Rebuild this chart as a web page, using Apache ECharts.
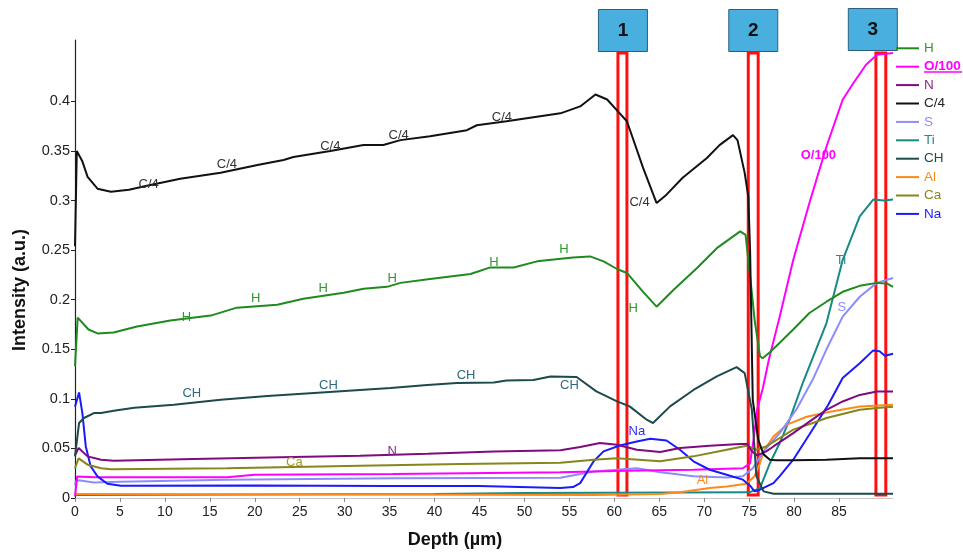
<!DOCTYPE html>
<html>
<head>
<meta charset="utf-8">
<script src="https://cdn.jsdelivr.net/npm/echarts@6/dist/echarts.min.js"></script>
<style>
html,body{margin:0;padding:0;background:#fff;}
#chart{width:963px;height:554px;}
</style>
</head>
<body>
<div id="chart"></div>
<script>
// ---- data (depth µm, intensity a.u.) ----
var seriesNames = ['H', 'O/100', 'N', 'C/4', 'S', 'Ti', 'CH', 'Al', 'Ca', 'Na'];
var xTicks = [0, 5, 10, 15, 20, 25, 30, 35, 40, 45, 50, 55, 60, 65, 70, 75, 80, 85];
var yTicks = [0, 0.05, 0.1, 0.15, 0.2, 0.25, 0.3, 0.35, 0.4];

var dataH = [[0,0.133],[0.3,0.182],[0.5,0.181],[1.5,0.17],[2.5,0.166],[4.3,0.167],[6.9,0.173],[10.6,0.179],[15.1,0.184],[18,0.192],[22.5,0.195],[25.4,0.201],[29.9,0.207],[32.1,0.211],[34.7,0.213],[36.2,0.217],[39.5,0.221],[44,0.226],[46.2,0.2326],[48.8,0.2326],[51.4,0.2387],[55.4,0.2427],[57.3,0.2437],[58.8,0.2387],[60.3,0.231],[61.4,0.227],[63.2,0.208],[64.7,0.193],[66.6,0.21],[69.2,0.232],[71.4,0.252],[74.0,0.269],[74.6,0.2655],[75.3,0.207],[75.6,0.18],[76.2,0.143],[76.5,0.141],[77.3,0.147],[78,0.153],[79.9,0.17],[81.7,0.1866],[83.6,0.198],[85.4,0.208],[87.3,0.214],[89.2,0.217],[90.4,0.216],[91,0.213]];
var dataO = [[0,0.0016],[0.25,0.0218],[0.4,0.0235],[2.1,0.021],[16.9,0.021],[20,0.0235],[35.4,0.0242],[54,0.026],[61.4,0.0275],[68.8,0.0285],[74.3,0.030],[75.1,0.035],[75.5,0.06],[75.9,0.09],[76.5,0.11],[77.2,0.14],[78.4,0.183],[79.9,0.24],[81.7,0.2975],[83.6,0.3546],[85.4,0.4017],[86.6,0.4186],[88,0.437],[89.2,0.447],[91,0.449]];
var dataN = [[0,0.043],[0.4,0.0504],[1.4,0.042],[2.9,0.0386],[4.3,0.0376],[13.2,0.0393],[24.3,0.0413],[31.7,0.0427],[39.2,0.0447],[46.6,0.047],[54,0.0482],[56.2,0.0514],[58.4,0.0555],[60.3,0.0537],[62.5,0.0487],[65.1,0.0464],[67.3,0.0504],[70.6,0.0527],[74.0,0.0545],[74.8,0.0545],[75.3,0.047],[75.9,0.043],[76.9,0.047],[77.7,0.052],[79.9,0.0655],[81.7,0.077],[83.6,0.089],[85.4,0.0974],[87.3,0.104],[89.2,0.1075],[91,0.1075]];
var dataC4 = [[0,0.254],[0.2,0.35],[0.4,0.351],[0.8,0.34],[1.4,0.324],[2.5,0.312],[4,0.309],[6,0.311],[8,0.315],[11.7,0.322],[16.2,0.328],[20.3,0.336],[23.2,0.341],[24.3,0.344],[28.4,0.350],[32.1,0.356],[34.3,0.356],[36.2,0.361],[39.5,0.365],[43.6,0.371],[44.7,0.376],[48,0.380],[54,0.388],[56.2,0.395],[57.9,0.407],[59.2,0.402],[60.6,0.388],[61.4,0.380],[63.2,0.333],[64.7,0.2975],[65.8,0.306],[67.6,0.323],[70.3,0.343],[71.7,0.356],[73.2,0.366],[73.7,0.361],[74.5,0.328],[74.9,0.304],[75.1,0.25],[75.4,0.099],[76.0,0.059],[76.6,0.044],[77.3,0.0386],[78,0.038],[80,0.038],[83.6,0.0386],[87.3,0.040],[91,0.040]];
var dataS = [[0,0.013],[0.1,0.0168],[0.4,0.0178],[2.1,0.0157],[5,0.0165],[16.9,0.0185],[35.4,0.020],[54,0.0205],[57.7,0.0268],[62.5,0.030],[65.1,0.026],[68.8,0.022],[72.5,0.0208],[74.3,0.022],[75.4,0.030],[76.6,0.047],[78.4,0.0655],[80.3,0.09],[82.1,0.12],[83.6,0.15],[85.4,0.183],[87.3,0.203],[89.2,0.217],[91,0.222]];
var dataTi = [[0,0.003],[40,0.004],[50,0.005],[75,0.0057],[76.2,0.01],[77.3,0.035],[78.4,0.0555],[79.5,0.079],[81,0.117],[83.6,0.1765],[85.4,0.24],[87.3,0.284],[88.8,0.301],[90,0.30],[91,0.301]];
var dataCH = [[0,0.042],[0.45,0.0756],[1.0,0.0807],[2.1,0.0857],[2.9,0.0857],[4.3,0.088],[6.6,0.091],[11,0.094],[16.2,0.099],[21.4,0.103],[26.6,0.106],[31.7,0.109],[35.1,0.111],[39.2,0.114],[42.5,0.116],[46.6,0.1166],[48,0.1186],[51,0.119],[52.9,0.1226],[55.8,0.122],[58,0.1075],[60.3,0.0974],[61.7,0.0924],[63.6,0.079],[64.3,0.0756],[66.2,0.0924],[68.8,0.109],[71.4,0.1226],[73.6,0.132],[74.5,0.126],[75.3,0.089],[75.8,0.022],[76.6,0.0067],[77.7,0.0043],[91,0.0043]];
var dataAl = [[0,0.004],[30,0.0035],[57.7,0.003],[65.1,0.004],[67.3,0.0057],[70.6,0.010],[72.5,0.0117],[74.7,0.0144],[75.6,0.022],[76.2,0.035],[76.6,0.047],[77.7,0.062],[79.2,0.074],[81.4,0.082],[84,0.087],[87.3,0.0924],[91,0.094]];
var dataCa = [[0,0.030],[0.4,0.040],[1.4,0.0336],[2.9,0.030],[4,0.029],[16.9,0.030],[31.7,0.0326],[42.9,0.0343],[54,0.0356],[57.7,0.0386],[60.3,0.040],[65.1,0.037],[68.8,0.042],[72.5,0.0487],[74.7,0.0527],[75.8,0.0487],[76.9,0.052],[78.4,0.0605],[79.9,0.069],[82.1,0.0756],[83.6,0.0807],[87.3,0.089],[89.2,0.0908],[91,0.092]];
var dataNa = [[0,0.092],[0.45,0.1065],[0.82,0.0857],[1.2,0.052],[1.74,0.032],[2.5,0.0218],[3.6,0.0144],[5.1,0.0124],[20,0.0125],[35,0.012],[45,0.012],[54,0.010],[55.4,0.011],[56.2,0.015],[57.7,0.037],[58.8,0.047],[60.6,0.053],[62.5,0.057],[64,0.0598],[65.8,0.058],[67.3,0.0487],[68.8,0.037],[70.6,0.0285],[72.5,0.0235],[74.3,0.0185],[75.1,0.0124],[75.6,0.0067],[76.2,0.0084],[77.7,0.015],[78.4,0.022],[79.9,0.0386],[81.7,0.064],[83.8,0.094],[85.4,0.121],[87.3,0.136],[88.8,0.1489],[89.5,0.148],[90.1,0.1435],[91,0.1455]];

// inline curve labels (anchor points in data coordinates)
var labelsC4 = [[8.2,0.316],[16.9,0.336],[28.4,0.355],[36,0.366],[47.5,0.384],[62.8,0.298]];
var labelsH = [[12.4,0.182],[20.1,0.201],[27.6,0.211],[35.3,0.221],[46.6,0.238],[54.4,0.251],[62.1,0.191]];
var labelsCH = [[13,0.105],[28.2,0.114],[43.5,0.124],[55,0.114]];
var labelsN = [[35.3,0.047]];
var labelsCa = [[24.4,0.036]];
var labelsNa = [[62.5,0.067]];
var labelsAl = [[69.8,0.0175]];
var labelsTi = [[85.2,0.24]];
var labelsS = [[85.3,0.192]];
var labelsO = [[82.7,0.346]];

// marked depth zones (red frames) and their numbered tags
var zoneRanges = [[60.4,61.4],[74.9,76.0],[89.1,90.2]];
var zoneTop = 0.449, zoneBottom = 0.003;
var tagCenters = [60.9, 75.4, 88.7];
var tagLabels = ['1', '2', '3'];

// ---- styles ----
var FONT = 'Liberation Sans, Arial, sans-serif';
var colors = {
  'H': '#1f8a1f', 'O/100': '#ff00ff', 'N': '#800a80', 'C/4': '#111111', 'S': '#8c8cff',
  'Ti': '#178a85', 'CH': '#1d4a4a', 'Al': '#ff8a1a', 'Ca': '#86861a', 'Na': '#1a1aff'
};
var labelColors = {
  'H': '#2e9a2e', 'O/100': '#ff00ff', 'N': '#8a2a8a', 'C/4': '#333333', 'S': '#8c8cff',
  'Ti': '#2a8a85', 'CH': '#2f6a7c', 'Al': '#ff8a1a', 'Ca': '#a0a020', 'Na': '#2a2aff'
};
var legendColors = {
  'H': '#2e9a2e', 'O/100': '#ff00ff', 'N': '#8a2a8a', 'C/4': '#222222', 'S': '#8c8cff',
  'Ti': '#2a8a85', 'CH': '#1d4a4a', 'Al': '#ff8a1a', 'Ca': '#86861a', 'Na': '#1a1aff'
};
var seriesData = {'H':dataH,'O/100':dataO,'N':dataN,'C/4':dataC4,'S':dataS,'Ti':dataTi,'CH':dataCH,'Al':dataAl,'Ca':dataCa,'Na':dataNa};
var seriesLabels = {'H':labelsH,'O/100':labelsO,'N':labelsN,'C/4':labelsC4,'S':labelsS,'Ti':labelsTi,'CH':labelsCH,'Al':labelsAl,'Ca':labelsCa,'Na':labelsNa};

var drawOrder = ['Ti','Al','S','O/100','Na','Ca','N','CH','H','C/4'];

var series = drawOrder.map(function (name) {
  return {
    name: name,
    type: 'line',
    data: seriesData[name],
    showSymbol: false,
    symbol: 'none',
    lineStyle: { color: colors[name], width: 2 },
    itemStyle: { color: colors[name] },
    animation: false,
    markPoint: {
      symbol: 'circle',
      symbolSize: 1,
      itemStyle: { color: 'rgba(0,0,0,0)' },
      label: {
        show: true, position: 'inside', formatter: '{b}',
        color: labelColors[name], fontFamily: FONT, fontSize: 13,
        fontWeight: name === 'O/100' ? 'bold' : 'normal'
      },
      data: seriesLabels[name].map(function (p) { return { name: name, coord: p }; }),
      animation: false
    }
  };
});

// red frames on an empty helper series
series.push({
  name: '__zones',
  type: 'line',
  data: [],
  silent: true,
  markArea: {
    silent: true,
    itemStyle: { color: 'rgba(0,0,0,0)', borderColor: '#ff1010', borderWidth: 3 },
    data: zoneRanges.map(function (r) {
      return [{ xAxis: r[0], yAxis: zoneBottom }, { xAxis: r[1], yAxis: zoneTop }];
    }),
    animation: false
  }
});

var chart = echarts.init(document.getElementById('chart'), null, { renderer: 'canvas' });

var option = {
  backgroundColor: '#ffffff',
  animation: false,
  grid: { left: 75, right: 70, top: 40, bottom: 56, containLabel: false },
  legend: {
    orient: 'vertical',
    left: 896,
    top: 40.8,
    padding: 0,
    icon: 'rect',
    itemWidth: 23,
    itemHeight: 2,
    itemGap: 3.4,
    selectedMode: false,
    textStyle: { fontFamily: FONT, fontSize: 13.5, lineHeight: 15 },
    data: seriesNames.map(function (n) {
      return { name: n, textStyle: { color: legendColors[n], fontWeight: n === 'O/100' ? 'bold' : 'normal' } };
    })
  },
  xAxis: {
    type: 'value',
    min: 0,
    max: 91,
    interval: 5,
    name: 'Depth (µm)',
    nameLocation: 'middle',
    nameGap: 33,
    nameTextStyle: { fontFamily: FONT, fontSize: 18, fontWeight: 'bold', color: '#111', padding: [0, 58, 0, 0] },
    axisLine: { show: true, onZero: false, lineStyle: { color: '#c8c8c8', width: 1 } },
    axisTick: { show: true, length: 4, lineStyle: { color: '#888' }, customValues: xTicks },
    axisLabel: { fontFamily: FONT, fontSize: 14, color: '#222', margin: 7, customValues: xTicks },
    splitLine: { show: false }
  },
  yAxis: {
    type: 'value',
    min: 0,
    max: 0.462,
    interval: 0.05,
    name: 'Intensity (a.u.)',
    nameLocation: 'middle',
    nameGap: 46,
    nameRotate: 90,
    nameTextStyle: { fontFamily: FONT, fontSize: 18, fontWeight: 'bold', color: '#111', padding: [0, 42, 0, 0] },
    axisLine: { show: true, lineStyle: { color: '#222', width: 1.2 } },
    axisTick: { show: true, length: 4, inside: false, lineStyle: { color: '#222' }, customValues: yTicks },
    axisLabel: {
      fontFamily: FONT, fontSize: 14.5, color: '#222', margin: 5, customValues: yTicks,
      formatter: function (v) { return String(Math.round(v * 100) / 100); }
    },
    splitLine: { show: false }
  },
  series: series
};

chart.setOption(option);

// numbered tags above the red frames, placed through the x axis scale
var tagW = 49, tagH = 42;
var graphics = tagCenters.map(function (xv, i) {
  var cx = chart.convertToPixel({ xAxisIndex: 0 }, xv);
  return {
    type: 'group',
    left: cx - tagW / 2,
    top: i === 2 ? 8 : 9,
    children: [
      { type: 'rect', shape: { x: 0, y: 0, width: tagW, height: tagH },
        style: { fill: '#48afdf', stroke: '#2b5f7c', lineWidth: 1 } },
      { type: 'text', style: { text: tagLabels[i], x: tagW / 2, y: tagH / 2, align: 'center', verticalAlign: 'middle',
        font: 'bold 19px ' + FONT, fill: '#111' } }
    ]
  };
});
// underline under the O/100 legend text
graphics.push({ type: 'line', shape: { x1: 924, y1: 72, x2: 962, y2: 72 }, style: { stroke: '#ff00ff', lineWidth: 1.5 } });
chart.setOption({ graphic: graphics });
</script>
</body>
</html>
